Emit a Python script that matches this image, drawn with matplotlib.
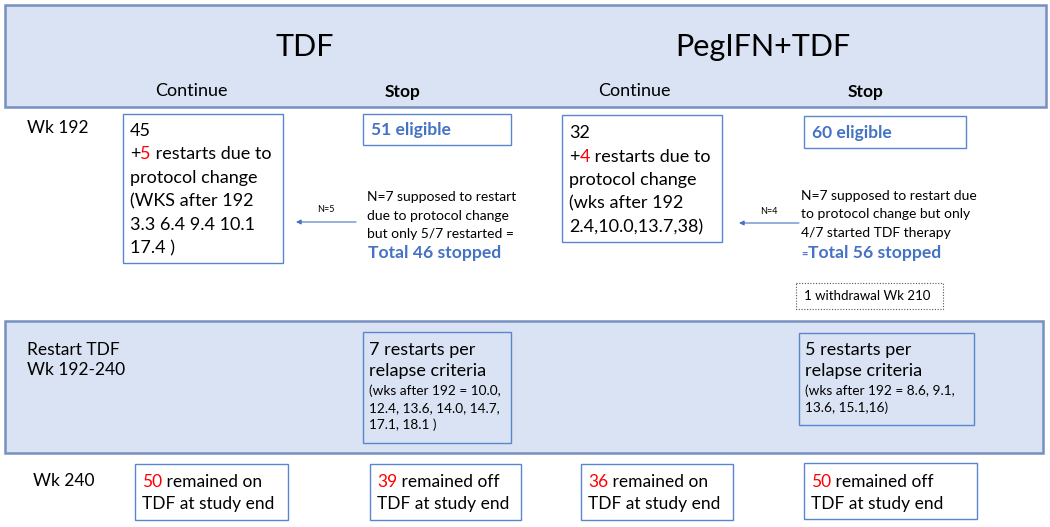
import matplotlib.pyplot as plt
from matplotlib.patches import Rectangle

plt.rcParams['font.family'] = ['Lato', 'DejaVu Sans']

# data
arms = ['TDF', 'PegIFN+TDF']
continue_n = [45, 32]
protocol_restarts = [5, 4]
protocol_weeks = [['(WKS after 192', '3.3 6.4 9.4 10.1', '17.4 )'],
                  ['(wks after 192', '2.4,10.0,13.7,38)']]
eligible = [51, 60]
supposed_text = [['N=7 supposed to restart', 'due to protocol change', 'but only 5/7 restarted ='],
                 ['N=7 supposed to restart due', 'to protocol change but only', '4/7 started TDF therapy']]
total_stopped = [46, 56]
arrow_labels = ['N=5', 'N=4']
relapse_restarts = [7, 5]
relapse_weeks = [['(wks after 192 = 10.0,', '12.4, 13.6, 14.0, 14.7,', '17.1, 18.1 )'],
                 ['(wks after 192 = 8.6, 9.1,', '13.6, 15.1,16)']]
remained_on = [50, 36]
remained_off = [39, 50]
withdrawal = '1 withdrawal Wk 210'

BAND = '#dae3f3'
BAND_EDGE = '#7690c0'
BOX_EDGE = '#5a86cf'
BLUE = '#4472c4'
RED = '#ff0000'

fig = plt.figure(figsize=(10.5, 5.27), dpi=100)
ax = fig.add_axes([0, 0, 1, 1])
ax.set_xlim(0, 1050)
ax.set_ylim(527, 0)
ax.axis('off')


def box(x0, y0, x1, y1, fc='white', ec=BOX_EDGE, lw=1.0, ls='-'):
    ax.add_patch(Rectangle((x0, y0), x1 - x0, y1 - y0, facecolor=fc, edgecolor=ec, lw=lw, linestyle=ls))


def lines(x, y, rows, step, size=13, **kw):
    for k, s in enumerate(rows):
        ax.text(x, y + k * step, s, fontsize=size, va='baseline', ha='left', **kw)


def pieces(x, y, parts, size=13, weight='normal'):
    # draw coloured pieces of one line, each after the previous
    prev = None
    for s, c in parts:
        if prev is None:
            prev = ax.text(x, y, s, color=c, fontsize=size, fontweight=weight, va='baseline', ha='left')
        else:
            prev = ax.annotate(s, xy=(1, y), xycoords=(prev, 'data'), color=c, fontsize=size,
                               fontweight=weight, va='baseline', ha='left')
    return prev


# bands
box(5, 5, 1046, 107, fc=BAND, ec=BAND_EDGE, lw=1.8)
box(5, 321, 1043, 453, fc=BAND, ec=BAND_EDGE, lw=1.8)

# header
title_x = [305, 763]
cont_x = [191, 634]
stop_x = [403, 866]
for i in range(2):
    ax.text(title_x[i], 47, arms[i], fontsize=22, ha='center', va='center')
    ax.text(cont_x[i], 91, 'Continue', fontsize=13, ha='center', va='center')
    ax.text(stop_x[i], 92, 'Stop', fontsize=12.5, fontweight='bold', ha='center', va='center')

# row labels
ax.text(27, 133, 'Wk 192', fontsize=12.5, va='baseline')
lines(27, 355, ['Restart TDF', 'Wk 192-240'], 20, size=12.5)
ax.text(33, 486, 'Wk 240', fontsize=12.5, va='baseline')

# week 192 row
cont_box = [(123, 114, 283, 263), (562, 115, 722, 242)]
cont_base = [135.5, 138]
elig_box = [(363, 114, 511, 145), (804, 116, 966, 148)]
arrow_x = [(356, 296), (799, 739)]
arrow_y = [222, 223]
supp_x = [367, 801]
supp_base = [201, 200]
for i in range(2):
    x0, y0, x1, y1 = cont_box[i]
    box(x0, y0, x1, y1)
    tx = x0 + 7
    b = cont_base[i]
    ax.text(tx, b, str(continue_n[i]), fontsize=13, va='baseline')
    pieces(tx, b + 23.5, [('+', 'black'), (str(protocol_restarts[i]), RED), (' restarts due to', 'black')])
    ax.text(tx, b + 47, 'protocol change', fontsize=13, va='baseline')
    lines(tx, b + 70.5, protocol_weeks[i], 23.5)

    x0, y0, x1, y1 = elig_box[i]
    box(x0, y0, x1, y1)
    ax.text(x0 + 8, (y0 + y1) / 2 + 1, f'{eligible[i]} eligible', fontsize=12.5, fontweight='bold',
            color=BLUE, va='center')

    xs, xe = arrow_x[i]
    ay = arrow_y[i]
    ax.annotate('', xy=(xe, ay), xytext=(xs, ay),
                arrowprops=dict(arrowstyle='-|>', color=BLUE, lw=0.8, mutation_scale=7, shrinkA=0, shrinkB=0))
    ax.text((xs + xe) / 2, ay - 12, arrow_labels[i], fontsize=6.5, ha='center', va='center')

    lines(supp_x[i], supp_base[i], supposed_text[i], 18.5, size=10)

ax.text(supp_x[0] + 1, 258, f'Total {total_stopped[0]} stopped', fontsize=12.6, fontweight='bold', color=BLUE,
        va='baseline')
ax.text(supp_x[1], 258, '=', fontsize=8, fontweight='bold', color=BLUE, va='baseline')
ax.text(supp_x[1] + 7, 258, f'Total {total_stopped[1]} stopped', fontsize=12.6, fontweight='bold', color=BLUE,
        va='baseline')

box(796, 283, 943, 309, ec='#555555', lw=0.8, ls=(0, (1, 1.5)))
ax.text(804, 296, withdrawal, fontsize=9.5, va='center')

# restart row
rel_box = [(363, 332, 511, 443), (799, 333, 974, 425)]
for i in range(2):
    x0, y0, x1, y1 = rel_box[i]
    box(x0, y0, x1, y1, fc=BAND)
    tx = x0 + 6
    lines(tx, 355, [f'{relapse_restarts[i]} restarts per', 'relapse criteria'], 21)
    lines(tx, 395, relapse_weeks[i], 17, size=9.8)

# week 240 row
end_box = [(135, 464, 288, 520), (370, 464, 521, 520), (581, 464, 733, 520), (804, 463, 977, 519)]
end_vals = [remained_on[0], remained_off[0], remained_on[1], remained_off[1]]
end_word = ['on', 'off', 'on', 'off']
for i in range(4):
    x0, y0, x1, y1 = end_box[i]
    box(x0, y0, x1, y1)
    tx = x0 + 7
    pieces(tx, 487, [(str(end_vals[i]), RED), (f' remained {end_word[i]}', 'black')], size=12.5)
    ax.text(tx, 509, 'TDF at study end', fontsize=12.5, va='baseline')

fig.savefig('out.png', dpi=100)
